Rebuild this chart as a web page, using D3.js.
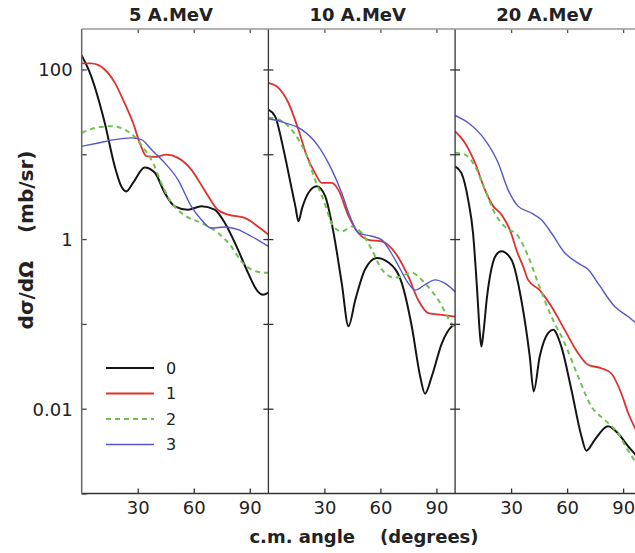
<!DOCTYPE html>
<html>
<head>
<meta charset="utf-8">
<script src="https://cdn.jsdelivr.net/npm/d3@7"></script>
<style>
  body { margin: 0; background: #fff; }
  svg { display: block; }
  .tick text { font-family: "DejaVu Sans", sans-serif; font-size: 18px; fill: #222; }
</style>
</head>
<body>
<svg id="chart" width="635" height="553"></svg>
<script>
// energies shown in the three panels
const energies = ["5 A.MeV", "10 A.MeV", "20 A.MeV"];
const seriesNames = ["0", "1", "2", "3"];
const xTicks = [30, 60, 90];
const yTicks = [0.001, 0.01, 0.1, 1, 10, 100, 1000];
const yLabels = [0.01, 1, 100];

// [c.m. angle (deg), dsigma/dOmega (mb/sr)]
const e5_0 = [[0,146],[5.1,83],[12.3,23.7],[17.7,7.2],[21.2,4.2],[23.9,3.65],[27.5,4.6],[33.7,7.0],[39.1,6.1],[44.5,3.5],[49.8,2.43],[56.9,2.22],[64.1,2.44],[71.2,2.22],[76.6,1.56],[83.7,0.75],[89.1,0.40],[94.4,0.24],[97.1,0.22],[100,0.233]];
const e5_1 = [[0,118],[5.1,118],[12.3,100],[17.7,70],[23,40],[27.5,23.5],[31.1,13.6],[34.6,9.5],[39.1,9.3],[45.3,9.9],[51.6,9.06],[58.7,6.6],[65.7,3.8],[73,2.2],[78.4,1.94],[87.3,1.78],[94.4,1.41],[100,1.13]];
const e5_2 = [[0,17.9],[7.1,20.4],[16,21.4],[23,19.5],[29.1,15.5],[33.7,11.4],[38.2,7.9],[42.6,4.6],[47.1,2.9],[51.6,2.2],[56.9,1.8],[64.1,1.55],[73,1.18],[80.1,0.82],[85.4,0.55],[90.7,0.44],[96.1,0.405],[100,0.40]];
const e5_3 = [[0,12.4],[8.9,13.6],[17.7,14.9],[26.6,15.6],[32,14.9],[37.3,11.4],[44.5,7.9],[51.6,5.0],[58.7,2.43],[64.1,1.69],[69.4,1.35],[76.6,1.39],[83.7,1.29],[90.8,1.08],[100,0.82]];

const e10_0 = [[0,33.7],[3.6,28],[8.1,11.4],[12.6,3.8],[14.5,2.4],[16.1,1.62],[18,2.3],[21.4,3.5],[25.9,4.2],[30.4,3.2],[34.9,1.18],[39.3,0.30],[42.9,0.094],[46.5,0.19],[51.8,0.44],[58.1,0.60],[64.3,0.53],[71.5,0.30],[76.8,0.093],[81.3,0.024],[83.9,0.015],[87.5,0.024],[92.9,0.059],[98.2,0.093],[100,0.098]];
const e10_1 = [[0,69.6],[5.4,60.8],[10.7,40.5],[16.1,19.5],[20.6,9.5],[25,6.0],[28.6,4.6],[34,4.6],[37.5,3.8],[42.8,1.9],[48.2,1.18],[53.6,0.98],[60.7,0.94],[67.9,0.69],[75,0.36],[80.3,0.19],[85.7,0.134],[92.9,0.128],[100,0.122]];
const e10_2 = [[0,27],[5.4,25.7],[10.7,21.4],[16.1,14.9],[20.6,9.5],[25,5.0],[29.5,2.9],[34.8,1.41],[39.3,1.23],[44.7,1.41],[50,1.18],[55.4,0.75],[60.7,0.44],[67.9,0.35],[76.8,0.40],[83.9,0.30],[91.1,0.19],[98.2,0.10],[100,0.089]];
const e10_3 = [[0,26.2],[8.9,23.5],[17.9,19.5],[26.8,12.4],[33.9,6.6],[39.3,3.5],[43.7,1.85],[48.2,1.18],[55.4,1.08],[60.7,0.98],[67.9,0.57],[75,0.30],[78.6,0.25],[83.9,0.29],[89.3,0.33],[94.6,0.30],[100,0.24]];

const e20_0 = [[0,7.2],[3.4,6.0],[7,2.9],[9.6,1.18],[11.8,0.25],[13.2,0.08],[14.1,0.054],[15.2,0.08],[17,0.2],[19.4,0.44],[22,0.65],[24.8,0.72],[30.2,0.57],[35.5,0.19],[40,0.041],[42.1,0.016],[45.3,0.041],[49.8,0.078],[52.5,0.085],[56.9,0.054],[62.3,0.0167],[67.7,0.0047],[70.3,0.0032],[74.8,0.0043],[81.9,0.0062],[87.3,0.0051],[92.7,0.0036],[95.9,0.003],[100,0.0023]];
const e20_1 = [[0,18.6],[5.3,13.6],[10.7,7.9],[16,3.8],[20.5,2.43],[24.9,1.94],[29.3,1.29],[33.5,0.68],[36.4,0.48],[39.1,0.33],[45.3,0.25],[51.6,0.16],[58.7,0.085],[65.9,0.045],[71.2,0.033],[78.4,0.030],[83.7,0.026],[89.1,0.015],[92.7,0.0089],[95.9,0.0062],[100,0.0042]];
const e20_2 = [[0,10.4],[5.3,9.9],[10.7,7.2],[16,3.8],[21.2,2.03],[26.5,1.41],[33.8,1.08],[39.1,0.63],[44.5,0.30],[51.6,0.122],[58.7,0.059],[65.9,0.024],[73,0.0106],[80.1,0.0074],[87.3,0.0051],[92.7,0.0032],[95.9,0.0025],[100,0.0019]];
const e20_3 = [[0,28.7],[7,23.5],[15.9,14.9],[23.1,7.9],[28.4,3.8],[33.8,2.43],[40.9,2.03],[46.2,1.69],[51.6,1.18],[58.7,0.69],[65.9,0.52],[71.2,0.44],[76.6,0.30],[85.5,0.16],[92.7,0.122],[95.9,0.107],[100,0.095]];

const panels = [
  [e5_0, e5_1, e5_2, e5_3],
  [e10_0, e10_1, e10_2, e10_3],
  [e20_0, e20_1, e20_2, e20_3]
];

// styling for series 0..3
const colors = ["#151515", "#e0312c", "#72c150", "#5656cc"];
const widths = [2, 1.8, 2, 1.4];
const dashes = [null, null, "5,4", null];

const svg = d3.select("#chart");
const plotLeft = 81.7, plotTop = 29, plotBottom = 493.5, pw = 186.7;

const y = d3.scaleLog().domain([0.001, 300]).range([plotBottom, plotTop]);

panels.forEach((series, p) => {
  const x0 = plotLeft + p * pw;
  const x = d3.scaleLinear().domain([0, 100]).range([x0, x0 + pw]);
  const g = svg.append("g");

  const line = d3.line()
    .x(d => x(d[0]))
    .y(d => y(d[1]))
    .curve(d3.curveMonotoneX);

  const clipId = "clip" + p;
  svg.append("clipPath").attr("id", clipId)
    .append("rect").attr("x", x0).attr("y", plotTop).attr("width", pw).attr("height", plotBottom - plotTop);

  series.forEach((data, i) => {
    g.append("path")
      .datum(data)
      .attr("clip-path", `url(#${clipId})`)
      .attr("fill", "none")
      .attr("stroke", colors[i])
      .attr("stroke-width", widths[i])
      .attr("stroke-dasharray", dashes[i])
      .attr("d", line);
  });

  // bottom axis, ticks pointing in
  const xb = svg.append("g").attr("transform", `translate(0,${plotBottom})`)
    .call(d3.axisBottom(x).tickValues(xTicks).tickSize(-5).tickPadding(8));
  xb.select(".domain").remove();
  xb.selectAll(".tick line").attr("stroke", "#333").attr("stroke-width", 1.3);

  // top axis, no labels
  const xt = svg.append("g").attr("transform", `translate(0,${plotTop})`)
    .call(d3.axisTop(x).tickValues(xTicks).tickSize(-4).tickFormat(""));
  xt.select(".domain").remove();
  xt.selectAll(".tick line").attr("stroke", "#555").attr("stroke-width", 1.3);

  // panel title
  svg.append("text")
    .attr("x", x0 + pw / 2 - 4)
    .attr("y", 21)
    .attr("text-anchor", "middle")
    .style("font-family", "DejaVu Sans, sans-serif")
    .style("font-weight", "bold")
    .style("font-size", "18px")
    .attr("fill", "#222")
    .text(energies[p]);
});

// left y axis with labels
const yl = svg.append("g").attr("transform", `translate(${plotLeft},0)`)
  .call(d3.axisLeft(y).tickValues(yTicks.filter(v => v <= 300)).tickSize(-5).tickPadding(9)
    .tickFormat(v => yLabels.includes(v) ? String(v) : ""));
yl.select(".domain").remove();
yl.selectAll(".tick line").attr("stroke", "#444").attr("stroke-width", 1.3);
yl.selectAll(".tick text").attr("dy", "0.36em");

// separators with ticks on both sides
[1, 2].forEach(p => {
  const xs = plotLeft + p * pw;
  [5, -5].forEach(s => {
    const a = svg.append("g").attr("transform", `translate(${xs},0)`)
      .call(d3.axisLeft(y).tickValues(yTicks.filter(v => v > 0.001 && v <= 300)).tickSize(s).tickFormat(""));
    a.select(".domain").remove();
    a.selectAll(".tick line").attr("stroke", "#333").attr("stroke-width", 1.3);
  });
  svg.append("line")
    .attr("x1", xs).attr("x2", xs).attr("y1", plotTop).attr("y2", plotBottom)
    .attr("stroke", "#333").attr("stroke-width", 1.3);
});

// frame lines
svg.append("line").attr("x1", plotLeft).attr("x2", 635).attr("y1", plotTop).attr("y2", plotTop)
  .attr("stroke", "#999").attr("stroke-width", 1.5);
svg.append("line").attr("x1", plotLeft).attr("x2", 635).attr("y1", plotBottom).attr("y2", plotBottom)
  .attr("stroke", "#333").attr("stroke-width", 1.5);
svg.append("line").attr("x1", plotLeft).attr("x2", plotLeft).attr("y1", plotTop).attr("y2", plotBottom)
  .attr("stroke", "#666").attr("stroke-width", 1.5);

// legend
const legend = svg.append("g");
seriesNames.forEach((name, i) => {
  const ly = 368 + i * 25.5;
  legend.append("line")
    .attr("x1", 106).attr("x2", 154).attr("y1", ly).attr("y2", ly)
    .attr("stroke", colors[i])
    .attr("stroke-width", widths[i])
    .attr("stroke-dasharray", dashes[i]);
  legend.append("text")
    .attr("x", 166).attr("y", ly).attr("dy", "0.36em")
    .style("font-family", "DejaVu Sans, sans-serif")
    .style("font-size", "16px")
    .attr("fill", "#222")
    .text(name);
});

// axis titles
svg.append("text")
  .attr("x", 364).attr("y", 543)
  .attr("text-anchor", "middle")
  .style("white-space", "pre")
  .style("font-family", "DejaVu Sans, sans-serif")
  .style("font-weight", "bold")
  .style("font-size", "18px")
  .attr("fill", "#222")
  .text("c.m. angle    (degrees)");

svg.append("text")
  .attr("transform", "translate(33,240) rotate(-90)")
  .attr("text-anchor", "middle")
  .style("white-space", "pre")
  .style("font-family", "DejaVu Sans, sans-serif")
  .style("font-weight", "bold")
  .style("font-size", "20px")
  .attr("fill", "#222")
  .text("dσ/dΩ    (mb/sr)");
</script>
</body>
</html>
